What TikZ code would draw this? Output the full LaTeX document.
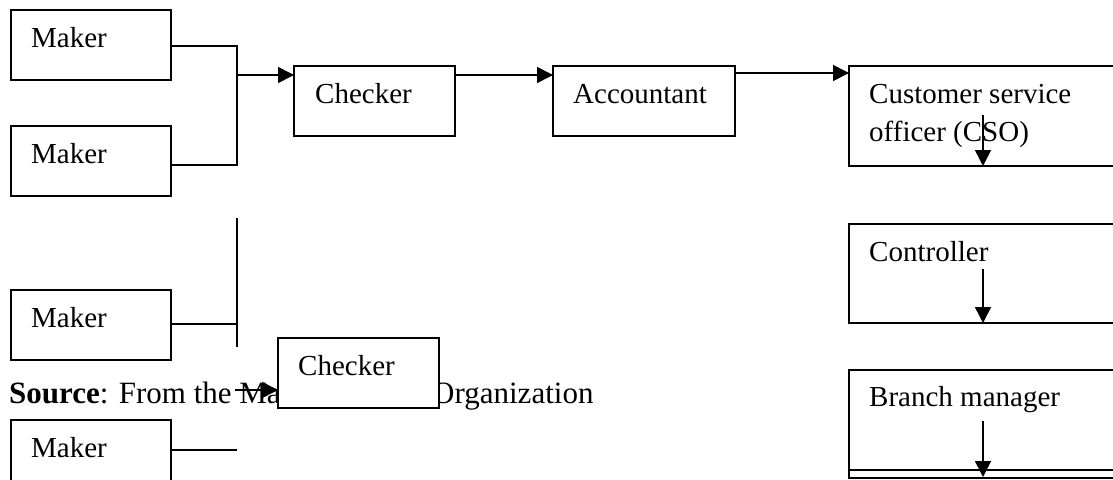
\documentclass[tikz,border=0pt]{standalone}
\usepackage{fontspec}
\setmainfont{Liberation Serif}
\usetikzlibrary{arrows.meta}
\begin{document}
\begin{tikzpicture}[x=1pt,y=-1pt,
  box/.style={draw, line width=1.6pt, fill=white, anchor=north west, inner sep=0pt, outer sep=0pt},
  lbl/.style={anchor=base west, inner sep=0pt, font=\fontsize{29}{38}\selectfont},
  conn/.style={line width=1.6pt},
  arr/.style={line width=1.6pt, -{Triangle[length=16pt,width=16pt]}}]
\useasboundingbox (0,0) rectangle (1113,479);
\clip (0,0) rectangle (1113,479);
% Makers
\node[box, minimum width=160pt, minimum height=70pt] (m1) at (11,10) {};
\node[box, minimum width=160pt, minimum height=70pt] (m2) at (11,126) {};
\node[box, minimum width=160pt, minimum height=70pt] (m3) at (11,290) {};
\node[box, minimum width=160pt, minimum height=70pt] (m4) at (11,420) {};
\node[lbl] (t1) at (31,47) {Maker};
\node[lbl] (t2) at (31,163) {Maker};
\node[lbl] (t3) at (31,327) {Maker};
\node[lbl] (t4) at (31,457) {Maker};
% top chain
\node[box, minimum width=161pt, minimum height=70pt] (c1) at (294,66) {};
\node[lbl] (tc1) at (315,103) {Checker};
\node[box, minimum width=182pt, minimum height=70pt] (ac) at (553,66) {};
\node[lbl] (tac) at (573,103) {Accountant};
\node[box, minimum width=300pt, minimum height=100pt] (cso) at (849,66) {};
\node[lbl] (tcso1) at (869,103) {Customer service};
\node[lbl] (tcso2) at (869,141) {officer (CSO)};
\node[box, minimum width=300pt, minimum height=99pt] (ctl) at (849,224) {};
\node[lbl] (tctl) at (869,261) {Controller};
\node[box, minimum width=300pt, minimum height=108pt] (bm) at (849,370) {};
\node[lbl] (tbm) at (869,406) {Branch manager};
\coordinate (bmline) at (849,470);
\draw[conn] (bmline) -- (bmline -| 1140,0);
% junctions
\coordinate (j1) at (237,46);
\coordinate (j2) at (237,165);
\coordinate (ja) at (237,75);
\coordinate (j3top) at (237,218);
\coordinate (j3) at (237,324);
\coordinate (j3bot) at (237,347);
\coordinate (j4) at (237,450);
\coordinate (jb) at (235,390);
\draw[conn] (m1.east |- j1) -- (j1) -- (j2) -- (m2.east |- j2);
\draw[arr] (ja) -- (c1.west |- ja);
\draw[arr] (c1.east |- ja) -- (ac.west |- ja);
\coordinate (jc) at (735,73);
\draw[arr] (ac.east |- jc) -- (cso.west |- jc);
\coordinate (v1) at (983,115);
\draw[arr] (v1) -- (v1 |- cso.south);
\coordinate (v2) at (983,269);
\draw[arr] (v2) -- (v2 |- ctl.south);
\coordinate (v3) at (983,421);
\draw[arr] (v3) -- (983,477);
\draw[conn] (j3top) -- (j3bot);
\draw[conn] (m3.east |- j3) -- (j3);
\draw[conn] (m4.east |- j4) -- (j4);
% source line
\node[lbl, font=\fontsize{31}{38}\selectfont] (src) at (9,403) {\textbf{Source}: From the Maker checker Organization};
\node[box, minimum width=161pt, minimum height=70pt] (c2) at (278,338) {};
\node[lbl] (tc2) at (298,375) {Checker};
\draw[arr] (jb) -- (c2.west |- jb);
\end{tikzpicture}
\end{document}
